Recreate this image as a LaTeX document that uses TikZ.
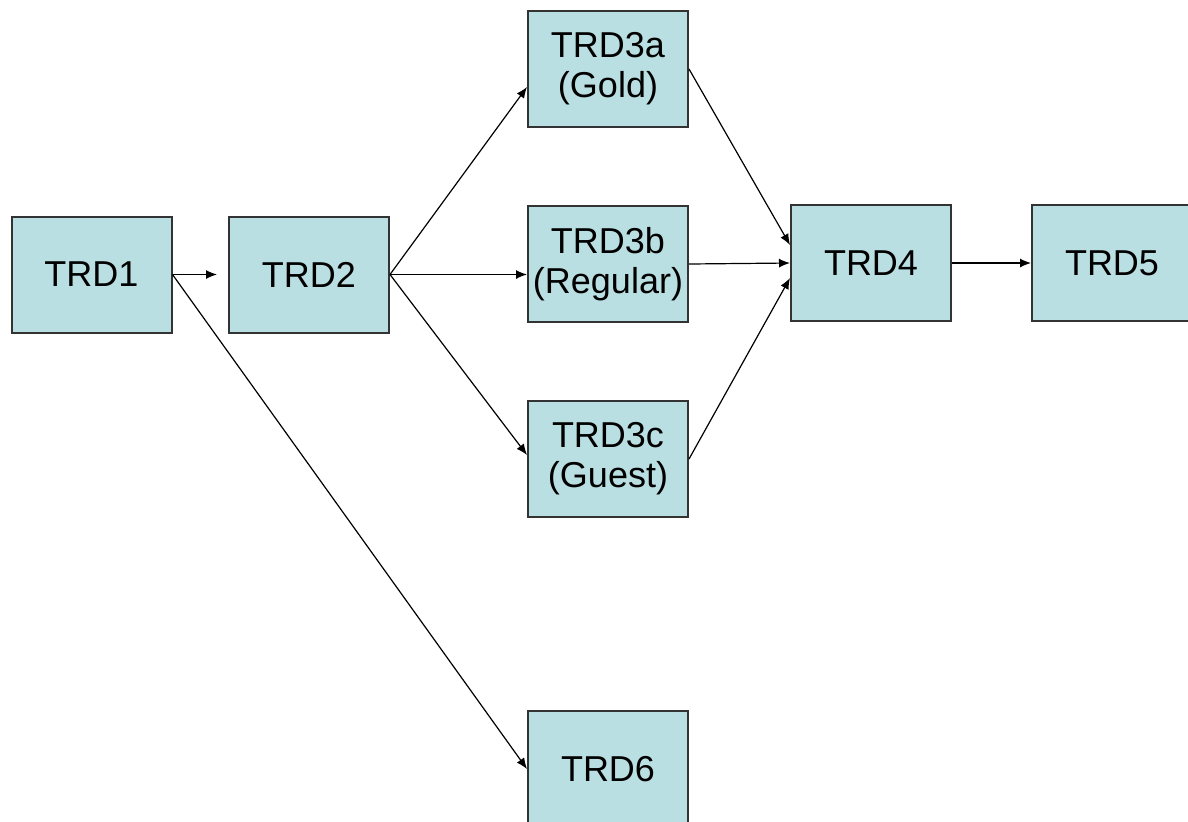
\documentclass[tikz,border=0pt]{standalone}
\usepackage{fontspec}
\setmainfont{Liberation Sans}
\usetikzlibrary{arrows.meta}
\definecolor{boxblue}{RGB}{186,223,226}
\tikzset{
  trd/.style = {rectangle, draw=black!80, fill=boxblue, line width=1pt,
                minimum width=80pt, minimum height=58pt, inner sep=0pt,
                align=center, font=\fontsize{18}{20}\selectfont},
  link/.style = {-{Latex[length=5.5pt,width=4.5pt]}, line width=0.6pt}
}

\begin{document}
\begin{tikzpicture}[x=0.5pt,y=-0.5pt]
	\useasboundingbox (0,0) rectangle (1188,821);
	\clip (0,0) rectangle (1188,821);

	% Boxes
	\node[trd] (trd1)  at (91.5,274.5) {TRD1};
	\node[trd] (trd2)  at (309,274.5)  {TRD2};
	\node[trd] (trd3a) at (608,69)     {TRD3a\\(Gold)};
	\node[trd] (trd3b) at (608,264)    {TRD3b\\(Regular)};
	\node[trd] (trd3c) at (608,459)    {TRD3c\\(Guest)};
	\node[trd] (trd4)  at (871,263)    {TRD4};
	\node[trd] (trd5)  at (1112,263)   {TRD5};
	\node[trd] (trd6)  at (608,769)    {TRD6};

	% Links
	\draw[link, shorten >=5.5pt] (trd1.east) -- (trd2.west);
	\draw[link] (trd1.east) -- (trd6.west);
	\draw[link] (trd2.east) -- ([yshift=-9pt]trd3a.west);
	\draw[link] (trd2.east) -- (trd2.east -| trd3b.west);
	\draw[link] (trd2.east) -- ([yshift=2pt]trd3c.west);
	\draw[link] (trd3a.east) -- ([yshift=9pt]trd4.west);
	\draw[link] (trd3b.east) -- (trd4.west);
	\draw[link] (trd3c.east) -- ([yshift=-7.5pt]trd4.west);
	\draw[link] (trd4.east) -- (trd5.west);

\end{tikzpicture}
\end{document}
